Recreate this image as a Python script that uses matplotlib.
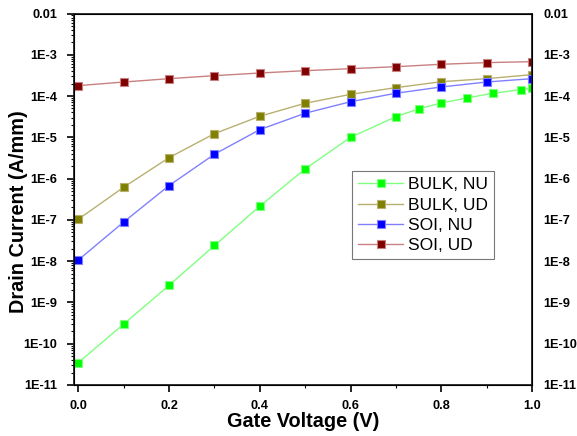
import math
import matplotlib
matplotlib.use("Agg")
import matplotlib.pyplot as plt
from matplotlib.ticker import FixedLocator, FuncFormatter, LogLocator, NullFormatter, MultipleLocator

plt.rcParams['font.family'] = ['Liberation Sans', 'DejaVu Sans']

# Gate voltage sweep (V)
vg = [0.0, 0.1, 0.2, 0.3, 0.4, 0.5, 0.6, 0.7, 0.8, 0.9, 1.0]
vg_bulk_nu = [0.0, 0.1, 0.2, 0.3, 0.4, 0.5, 0.6, 0.7, 0.75, 0.8, 0.857, 0.914, 0.975, 1.0]

# Drain current (A/mm)
bulk_nu = [3.5e-11, 3.0e-10, 2.6e-9, 2.4e-8, 2.15e-7, 1.72e-6, 1.0e-5,
           3.17e-5, 4.88e-5, 6.8e-5, 9.0e-5, 1.17e-4, 1.43e-4, 1.55e-4]
bulk_ud = [1.04e-7, 6.2e-7, 3.23e-6, 1.23e-5, 3.24e-5, 6.7e-5, 1.10e-4,
           1.6e-4, 2.23e-4, 2.64e-4, 3.3e-4]
soi_nu = [1.07e-8, 8.9e-8, 6.8e-7, 3.9e-6, 1.54e-5, 3.84e-5, 7.3e-5,
          1.17e-4, 1.66e-4, 2.19e-4, 2.64e-4]
soi_ud = [1.79e-4, 2.19e-4, 2.64e-4, 3.12e-4, 3.62e-4, 4.12e-4, 4.61e-4,
          5.15e-4, 5.89e-4, 6.46e-4, 6.81e-4]

labels = ["BULK, NU", "BULK, UD", "SOI, NU", "SOI, UD"]
marker_colors = ["#00ff00", "#808000", "#0000ff", "#800000"]
line_colors = ["#80ff80", "#b8b070", "#8080ff", "#c88080"]

y_ticks = [1e-11, 1e-10, 1e-9, 1e-8, 1e-7, 1e-6, 1e-5, 1e-4, 1e-3, 1e-2]


def fmt(v, pos=None):
    if abs(v - 1e-2) < 1e-12:
        return "0.01"
    return "1E%d" % round(math.log10(v))


fig = plt.figure(figsize=(5.77, 4.36), dpi=100)
ax = fig.add_axes([0.128, 0.117, 0.794, 0.852])

series = [(vg_bulk_nu, bulk_nu), (vg, bulk_ud), (vg, soi_nu), (vg, soi_ud)]
for (x, y), lab, mc, lc in zip(series, labels, marker_colors, line_colors):
    ax.plot(x, y, color=lc, lw=1.0, marker="s", markersize=5.6,
            markerfacecolor=mc, markeredgecolor=lc, markeredgewidth=0.8,
            label=lab)

ax.set_yscale("log")
ax.set_ylim(1e-11, 1e-2)
ax.set_xlim(-0.01, 1.0)

ax.yaxis.set_major_locator(FixedLocator(y_ticks))
ax.yaxis.set_major_formatter(FuncFormatter(fmt))
ax.yaxis.set_minor_locator(LogLocator(base=10, subs=range(2, 10), numticks=20))
ax.yaxis.set_minor_formatter(NullFormatter())
ax.xaxis.set_major_locator(MultipleLocator(0.2))
ax.xaxis.set_minor_locator(MultipleLocator(0.1))
ax.xaxis.set_major_formatter(FuncFormatter(lambda v, p: "%.1f" % v))

ax.tick_params(which="major", direction="out", length=5, width=1.2,
               labelsize=9.2)
ax.tick_params(axis="y", which="major", pad=7)
ax.tick_params(axis="x", which="major", pad=6)
ax.tick_params(which="minor", direction="out", length=2.5, width=0.8)
for lbl in ax.get_xticklabels() + ax.get_yticklabels():
    lbl.set_fontweight("bold")

for s in ax.spines.values():
    s.set_linewidth(1.3)
    s.set_color("#222222")

ax2 = ax.twinx()
ax2.set_yscale("log")
ax2.set_ylim(1e-11, 1e-2)
ax2.yaxis.set_major_locator(FixedLocator(y_ticks))
ax2.yaxis.set_major_formatter(FuncFormatter(fmt))
ax2.yaxis.set_minor_formatter(NullFormatter())
ax2.tick_params(which="both", length=0, labelsize=9.2, pad=8)
for lbl in ax2.get_yticklabels():
    lbl.set_fontweight("bold")

ax.set_xlabel("Gate Voltage (V)", fontsize=14.3, fontweight="bold")
ax.set_ylabel("Drain Current (A/mm)", fontsize=14.3, fontweight="bold")
ax.xaxis.set_label_coords(0.5, -0.073)
ax.yaxis.set_label_coords(-0.10, 0.467)

leg = ax.legend(loc="upper left", bbox_to_anchor=(0.607, 0.576),
                fontsize=12.5, frameon=True, fancybox=False, handlelength=2.6,
                handletextpad=0.3, borderpad=0.35, labelspacing=0.3,
                borderaxespad=0)
leg.get_frame().set_edgecolor("#555555")
leg.get_frame().set_linewidth(0.8)

fig.savefig("out.png", dpi=100)
